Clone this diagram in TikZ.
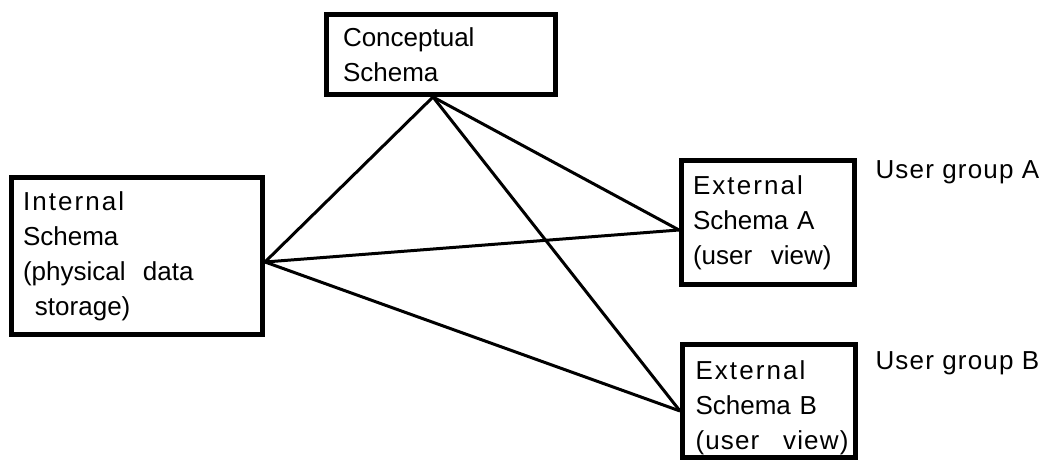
\documentclass[tikz,border=0pt]{standalone}
\usepackage{fontspec}
\setmainfont{Liberation Sans}
\newfontfamily\headfont[LetterSpace=8]{Liberation Sans}
\newfontfamily\groupfont[LetterSpace=4.5]{Liberation Sans}
\usetikzlibrary{positioning}

\begin{document}
\begin{tikzpicture}[x=1pt, y=-1pt,
    every node/.style={font=\fontsize{26}{35}\selectfont},
    schema/.style={draw, line width=5pt, align=left, inner xsep=0pt, inner ysep=0pt},
    link/.style={line width=3pt}]
    \useasboundingbox (0,0) rectangle (1043,460);

    % Schema boxes
    \node[schema, text width=196pt, minimum width=229pt, minimum height=80pt] (concept) at (441,54.5)
        {Conceptual\\Schema};
    \node[schema, text width=228pt, minimum width=251pt, minimum height=157pt] (internal) at (137,256)
        {{\headfont Internal}\\Schema\\(physical\ \ data\\\hspace*{12pt}storage)};
    \node[schema, text width=150pt, minimum width=173pt, minimum height=124pt] (extA) at (768,222.5)
        {{\headfont External}\\Schema A\\\mbox{(user\hspace{10pt} view)}};
    \node[schema, text width=147pt, minimum width=173pt, minimum height=113pt] (extB) at (769,401)
        {\rule{0pt}{32pt}{\headfont External}\\Schema B\\\mbox{\groupfont (user\hspace{15pt} view)}};

    % User groups
    \node[anchor=base west, font=\fontsize{26}{35}\groupfont] (groupA) at (872,178) {User group A};
    \node[anchor=base west, font=\fontsize{26}{35}\groupfont] (groupB) at (872,369) {User group B};

    % Mappings
    \draw[link] ([xshift=-8pt]concept.south) -- ([yshift=-6pt]internal.east);
    \draw[link] ([xshift=-8pt]concept.south) -- ([yshift=-7.5pt]extA.west);
    \draw[link] ([xshift=-8pt]concept.south) -- ([yshift=-10pt]extB.west);
    \draw[link] ([yshift=-6pt]internal.east) -- ([yshift=-7.5pt]extA.west);
    \draw[link] ([yshift=-6pt]internal.east) -- ([yshift=-10pt]extB.west);
\end{tikzpicture}
\end{document}
